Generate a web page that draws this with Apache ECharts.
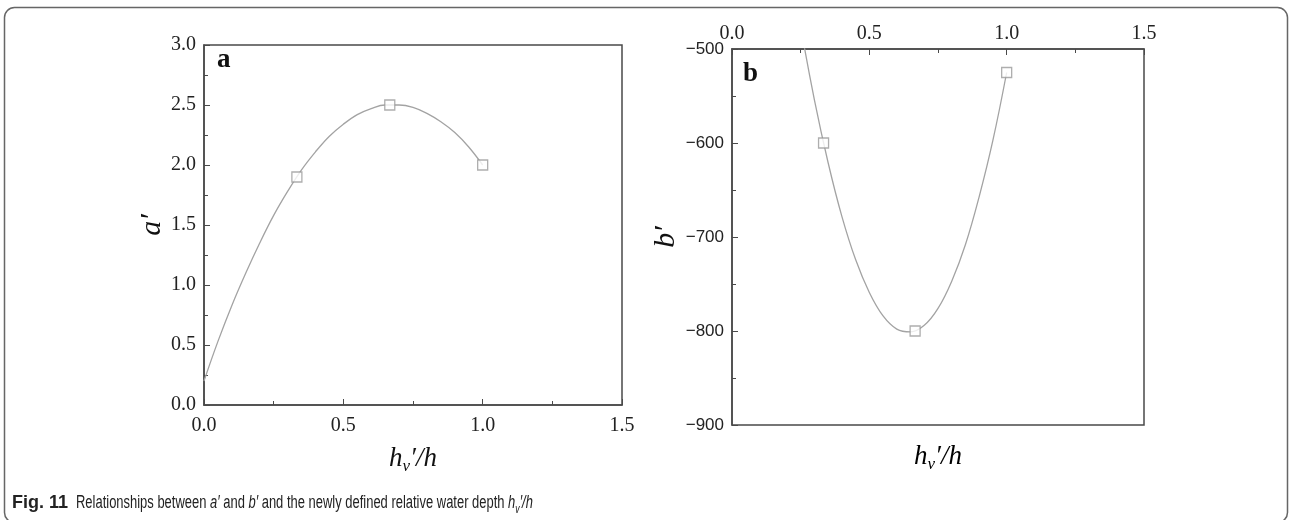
<!DOCTYPE html>
<html>
<head>
<meta charset="utf-8">
<script src="https://cdn.jsdelivr.net/npm/echarts@6/dist/echarts.min.js"></script>
<style>
html,body{margin:0;padding:0;background:#fff;}
#chart{width:1290px;height:520px;}
</style>
</head>
<body>
<div id="chart"></div>
<script>
// ---- data ----
// panel a: measured points
const aPointX = [1/3, 2/3, 1.0];
const aPointY = [1.9, 2.5, 2.0];
// panel a: fitted curve
const aCurveX = [0, 0.05, 0.1, 0.15, 0.2, 0.25, 0.3, 0.35, 0.4, 0.45, 0.5, 0.55, 0.6, 0.65, 0.7, 0.75, 0.8, 0.85, 0.9, 0.95, 1.0];
const aCurveY = [0.20, 0.53, 0.83, 1.10, 1.35, 1.58, 1.78, 1.96, 2.11, 2.24, 2.34, 2.42, 2.47, 2.50, 2.50, 2.48, 2.43, 2.36, 2.27, 2.15, 2.00];
// panel b: measured points
const bPointX = [1/3, 2/3, 1.0];
const bPointY = [-600, -800, -525];
// panel b: fitted curve (clipped above -500)
const bCurveX = [0.2, 0.25, 0.3, 0.35, 0.4, 0.45, 0.5, 0.55, 0.6, 0.65, 0.7, 0.75, 0.8, 0.85, 0.9, 0.95, 1.0];
const bCurveY = [-387, -476, -554, -621, -678, -724, -759, -784, -798, -801, -794, -776, -747, -708, -657, -597, -525];
// axis ticks
const xTicks = {min: 0, max: 1.5, step: 0.5};
const aTicks = {min: 0, max: 3.0, step: 0.5};
const bTicks = {min: -900, max: -500, step: 100};

const zip = (xs, ys) => xs.map((x, i) => [x, ys[i]]);

const axisCol = '#4a4a4a';
const serifLbl = {fontFamily: 'Liberation Serif', fontSize: 20, color: '#222'};
const sansLbl = {fontFamily: 'Liberation Sans', fontSize: 17, color: '#222'};
const lineCol = '#a3a3a3';

const titleRich = {
  i: {fontFamily: 'Liberation Serif', fontStyle: 'italic', fontSize: 27, color: '#111', lineHeight: 30, verticalAlign: 'top'},
  s: {fontFamily: 'Liberation Serif', fontStyle: 'italic', fontSize: 17, color: '#111', lineHeight: 14, verticalAlign: 'bottom'}
};
const hTitle = '{i|h}{s|v}{i|′/h}';

function valAxis(extra) {
  return Object.assign({
    type: 'value',
    axisLine: {show: true, lineStyle: {color: axisCol, width: 1.5}},
    axisTick: {show: true, inside: true, length: 6, lineStyle: {color: axisCol, width: 1}},
    minorTick: {show: true, splitNumber: 2, length: 4, lineStyle: {color: axisCol, width: 1}},
    splitLine: {show: false},
    minorSplitLine: {show: false}
  }, extra);
}

const capFont = 'Liberation Sans';
const chart = echarts.init(document.getElementById('chart'), null, {renderer: 'canvas'});
chart.setOption({
  backgroundColor: '#fff',
  animation: false,
  grid: [
    {left: 204, right: 668, top: 45, bottom: 115, show: true, borderColor: axisCol, borderWidth: 1.5, backgroundColor: 'transparent'},
    {left: 732, right: 146, top: 49, bottom: 95, show: true, borderColor: axisCol, borderWidth: 1.5, backgroundColor: 'transparent'}
  ],
  xAxis: [
    valAxis({gridIndex: 0, position: 'bottom', min: xTicks.min, max: xTicks.max, interval: xTicks.step,
      axisLabel: Object.assign({margin: 11, formatter: v => v.toFixed(1)}, serifLbl),
      name: hTitle, nameLocation: 'middle', nameGap: 40, nameTextStyle: {rich: titleRich}}),
    valAxis({gridIndex: 1, position: 'top', min: xTicks.min, max: xTicks.max, interval: xTicks.step,
      axisLabel: Object.assign({margin: 5, formatter: v => v.toFixed(1)}, serifLbl)})
  ],
  yAxis: [
    valAxis({gridIndex: 0, min: aTicks.min, max: aTicks.max, interval: aTicks.step,
      axisLabel: Object.assign({margin: 8, formatter: v => v.toFixed(1)}, serifLbl),
      name: 'a′', nameLocation: 'middle', nameGap: 37,
      nameTextStyle: {fontFamily: 'Liberation Serif', fontStyle: 'italic', fontSize: 30, color: '#111'}}),
    valAxis({gridIndex: 1, min: bTicks.min, max: bTicks.max, interval: bTicks.step,
      axisLabel: Object.assign({margin: 8, formatter: v => String(v).replace('-', '−')}, sansLbl),
      name: 'b′', nameLocation: 'middle', nameGap: 51,
      nameTextStyle: {fontFamily: 'Liberation Serif', fontStyle: 'italic', fontSize: 30, color: '#111'}})
  ],
  series: [
    {type: 'line', xAxisIndex: 0, yAxisIndex: 0, data: zip(aCurveX, aCurveY), smooth: 0.4, showSymbol: false,
      lineStyle: {color: lineCol, width: 1.3}, silent: true, z: 2},
    {type: 'scatter', xAxisIndex: 0, yAxisIndex: 0, data: zip(aPointX, aPointY), symbol: 'rect', symbolSize: 10,
      itemStyle: {color: '#fff', borderColor: '#9a9a9a', borderWidth: 1.3}, z: 3},
    {type: 'line', xAxisIndex: 1, yAxisIndex: 1, data: zip(bCurveX, bCurveY), smooth: 0.4, showSymbol: false, clip: true,
      lineStyle: {color: lineCol, width: 1.3}, silent: true, z: 2},
    {type: 'scatter', xAxisIndex: 1, yAxisIndex: 1, data: zip(bPointX, bPointY), symbol: 'rect', symbolSize: 10,
      itemStyle: {color: '#fff', borderColor: '#9a9a9a', borderWidth: 1.3}, z: 3}
  ],
  graphic: [
    {type: 'rect', shape: {x: 4.5, y: 7.5, width: 1283, height: 515, r: 10}, style: {fill: 'none', stroke: '#666', lineWidth: 1.5}, silent: true, z: -1},
    {type: 'text', left: 217, top: 47, style: {text: 'a', font: 'bold 27px "Liberation Serif"', fill: '#111'}},
    {type: 'text', left: 743, top: 61, style: {text: 'b', font: 'bold 27px "Liberation Serif"', fill: '#111'}},
    {type: 'text', x: 938, y: 443, style: {text: hTitle, rich: titleRich, align: 'center'}},
    {type: 'text', x: 12, y: 494, scaleX: 1.0, style: {
      text: 'Fig. 11', font: 'bold 18px "' + capFont + '"', fill: '#222', verticalAlign: 'top'}},
    {type: 'text', x: 76, y: 494, scaleX: 0.72, style: {
      text: '{n|Relationships between }{i|a′}{n| and }{i|b′}{n| and the newly defined relative water depth }{i|h}{s|v}{i|′/h}',
      rich: {
        n: {fontFamily: capFont, fontSize: 18, fill: '#222', lineHeight: 22, verticalAlign: 'top'},
        i: {fontFamily: capFont, fontStyle: 'italic', fontSize: 18, fill: '#222', lineHeight: 22, verticalAlign: 'top'},
        s: {fontFamily: capFont, fontStyle: 'italic', fontSize: 12, fill: '#222', lineHeight: 10, verticalAlign: 'bottom'}
      }
    }}
  ]
});
</script>
</body>
</html>
